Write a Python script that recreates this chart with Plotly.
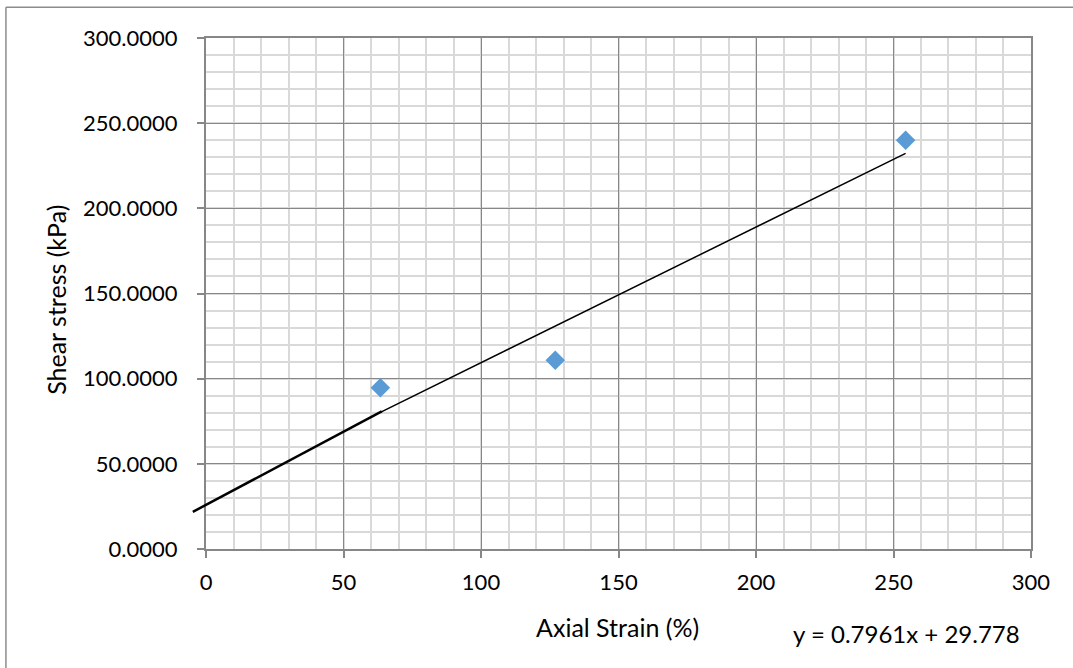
import plotly.graph_objects as go

# Measured data
axial_strain = [63.4, 127.0, 254.4]
shear_stress = [94.6, 110.8, 240.0]

# Linear trendline y = m x + c
slope = 0.7961
intercept = 29.778
trend_x = [min(axial_strain), max(axial_strain)]
trend_y = [slope * v + intercept for v in trend_x]

# Hand-drawn extension of the fit towards the origin
ext_x = [-4.8, 63.9]
ext_y = [21.8, 80.8]

x_ticks = [0, 50, 100, 150, 200, 250, 300]
y_ticks = [0, 50, 100, 150, 200, 250, 300]

W, H = 1073, 668
ML, MR, MT, MB = 190, 42.3, 37.7, 118.5
PW = W - ML - MR
PH = H - MT - MB
x_left_px = 206  # where the value axis sits
x0_frac = (x_left_px - ML) / PW
px_per_unit = (PW - (x_left_px - ML)) / 300.0


def px_x(p):
    return (p - ML) / PW


def px_y(p):
    return (H - MB - p) / PH


FONT = "Lato"
GRID_MAJOR = "#878787"
GRID_MINOR = "#d9d9d9"

fig = go.Figure()

fig.add_trace(go.Scatter(
    x=ext_x, y=ext_y, xaxis="x2", yaxis="y2", mode="lines",
    line=dict(color="black", width=2.5), showlegend=False, hoverinfo="skip"))

fig.add_trace(go.Scatter(
    x=trend_x, y=trend_y, mode="lines",
    line=dict(color="black", width=1.5), showlegend=False))

fig.add_trace(go.Scatter(
    x=axial_strain, y=shear_stress, mode="markers",
    marker=dict(symbol="diamond", size=15, color="#5b9bd5"),
    showlegend=False))

fig.update_layout(
    width=W, height=H,
    margin=dict(l=ML, r=MR, t=MT, b=MB, pad=0),
    paper_bgcolor="white",
    plot_bgcolor="rgba(0,0,0,0)",
    font=dict(family=FONT, size=22, color="black"),
    xaxis=dict(
        domain=[x0_frac, 1], range=[0, 300], anchor="y",
        tickvals=x_ticks, ticktext=[str(v) for v in x_ticks],
        ticks="outside", ticklen=7, tickwidth=1.5, tickcolor=GRID_MAJOR,
        ticklabelstandoff=6,
        showline=True, linecolor=GRID_MAJOR, linewidth=2, mirror=True,
        showgrid=True, gridcolor=GRID_MAJOR, gridwidth=1,
        minor=dict(dtick=10, showgrid=True, gridcolor=GRID_MINOR, gridwidth=2, ticks=""),
        zeroline=False, tickfont=dict(family=FONT, size=22, color="black"),
    ),
    yaxis=dict(
        domain=[0, 1], range=[0, 300], anchor="x",
        tickvals=y_ticks, ticktext=[f"{v:.4f}" for v in y_ticks],
        ticks="outside", ticklen=7, tickwidth=1.5, tickcolor=GRID_MAJOR,
        ticklabelstandoff=15,
        showline=True, linecolor=GRID_MAJOR, linewidth=2, mirror=True,
        showgrid=True, gridcolor=GRID_MAJOR, gridwidth=1,
        minor=dict(dtick=10, showgrid=True, gridcolor=GRID_MINOR, gridwidth=2, ticks=""),
        zeroline=False, tickfont=dict(family=FONT, size=22, color="black"),
    ),
    xaxis2=dict(
        domain=[0, 1], range=[-(x_left_px - ML) / px_per_unit, 300], anchor="y2",
        visible=False, showgrid=False, zeroline=False,
    ),
    yaxis2=dict(
        domain=[0, 1], range=[0, 300], anchor="x2",
        visible=False, showgrid=False, zeroline=False,
    ),
    annotations=[
        dict(text="Axial Strain (%)", xref="paper", yref="paper",
             x=px_x(617), y=px_y(628), xanchor="center", yanchor="middle",
             showarrow=False, font=dict(family=FONT, size=25, color="black")),
        dict(text="Shear stress (kPa)", xref="paper", yref="paper",
             x=px_x(56), y=px_y(300), xanchor="center", yanchor="middle",
             textangle=-90, showarrow=False,
             font=dict(family=FONT, size=25, color="black")),
        dict(text="y = 0.7961x + 29.778", xref="paper", yref="paper",
             x=px_x(906.5), y=px_y(634), xanchor="center", yanchor="middle",
             showarrow=False, font=dict(family=FONT, size=24, color="black")),
    ],
    shapes=[
        dict(type="line", xref="paper", yref="paper",
             x0=px_x(6), x1=px_x(6), y0=px_y(7), y1=px_y(700),
             line=dict(color="#8c8c8c", width=1.5)),
        dict(type="line", xref="paper", yref="paper",
             x0=px_x(6), x1=px_x(1100), y0=px_y(7), y1=px_y(7),
             line=dict(color="#8c8c8c", width=1.5)),
    ],
)

fig.write_html("out.html")
